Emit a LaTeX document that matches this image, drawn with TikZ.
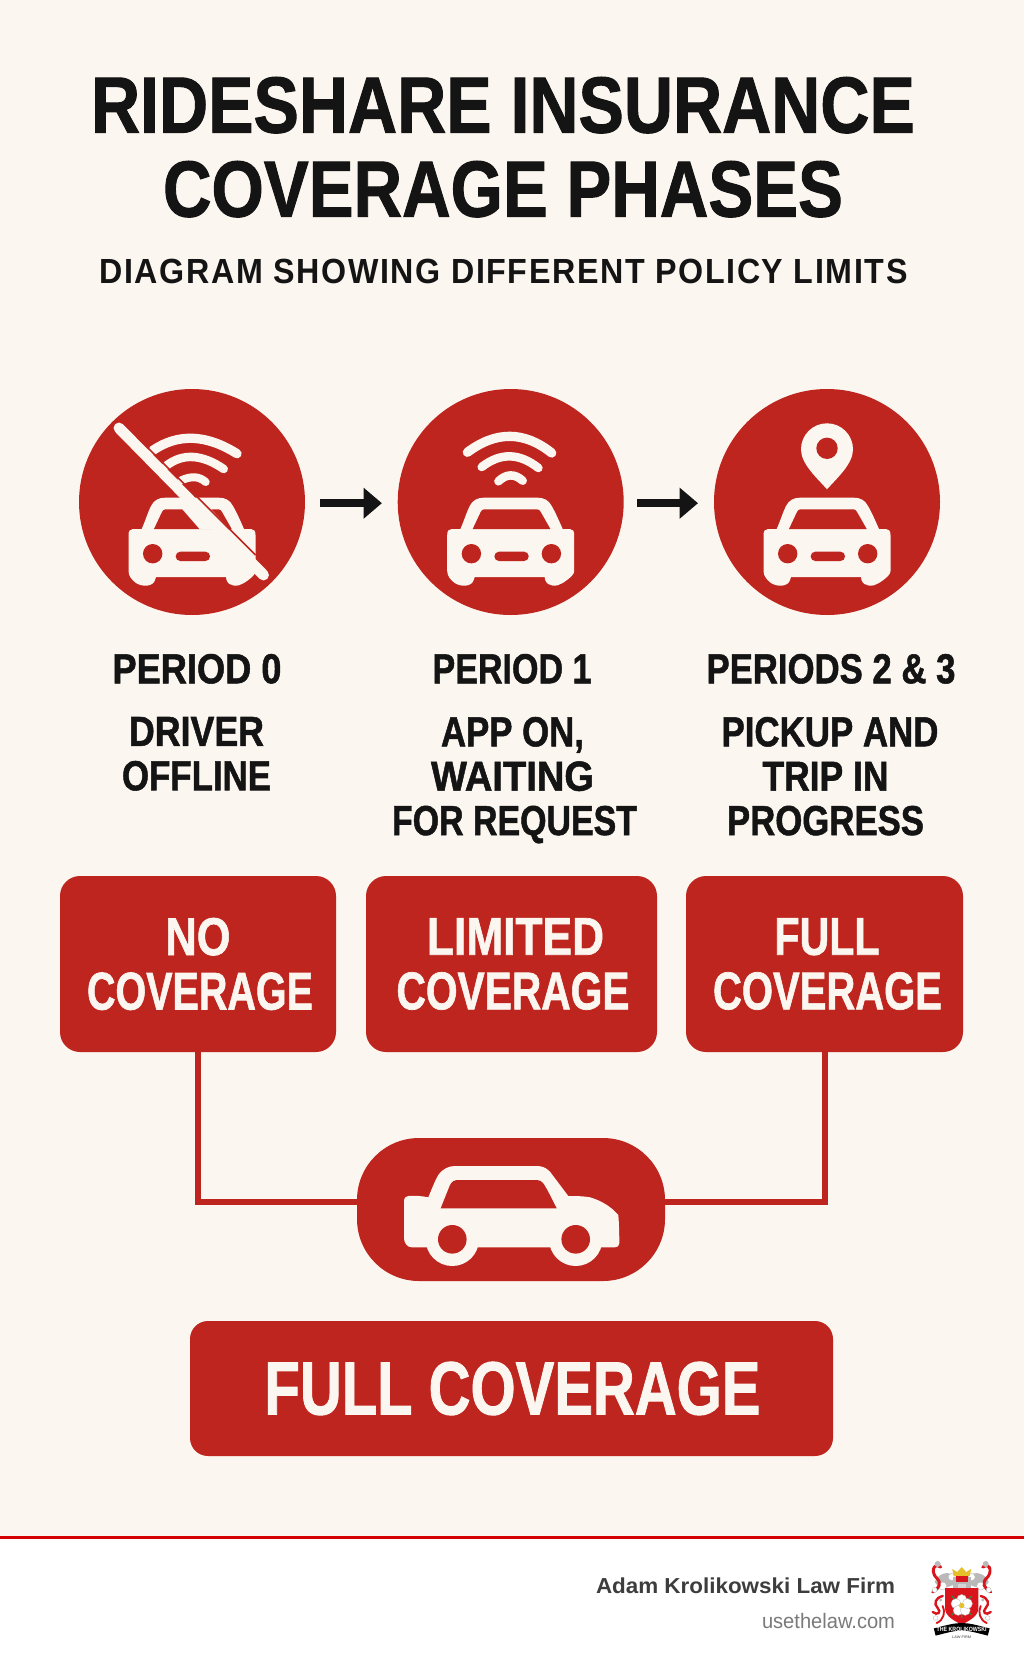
\documentclass[tikz,border=0pt]{standalone}
\usepackage{graphicx}
\usepackage{fontspec}
\usetikzlibrary{arrows.meta}
\setmainfont{Liberation Sans}
\newfontfamily\blk[FakeBold=1.3]{Liberation Sans Bold}
\newfontfamily\bld{Liberation Sans Bold}
\newfontfamily\reg{Liberation Sans}
\newfontfamily\sbt[LetterSpace=5]{Liberation Sans Bold}
\definecolor{rd}{HTML}{BF251F}
\definecolor{cream}{HTML}{FBF6EF}
\definecolor{ink}{HTML}{141414}
\definecolor{ftline}{HTML}{D50000}
\definecolor{ftdark}{HTML}{3D3D3D}
\definecolor{ftgray}{HTML}{7A7A7A}
\definecolor{lgred}{HTML}{D9141C}
\definecolor{lggray}{HTML}{B9B9B9}
\definecolor{lgyel}{HTML}{E6C02A}
\definecolor{lggreen}{HTML}{2E8B3C}
\newdimen\pxu \pxu=0.75pt
\newdimen\fsu \fsu=1.0475pt
% width in px, cap height in px, text
\newcommand{\TT}[3]{\resizebox{#1\pxu}{\height}{\fontsize{\the\dimexpr#2\fsu\relax}{\the\dimexpr#2\fsu\relax}\selectfont #3}}
\newcommand{\lsk}[1]{\fontsize{10pt}{#1}\selectfont}
\tikzset{
  x=0.75pt,y=-0.75pt,
  ttl/.style={inner sep=0pt,outer sep=0pt,anchor=north,align=center,text=ink},
  tile/.style={inner sep=0pt,outer sep=0pt,fill=rd,rounded corners=15pt,text=cream,align=center,minimum height=132pt},
  disc/.style={circle,fill=rd,inner sep=0pt,outer sep=0pt,minimum size=169.5pt},
  link/.style={draw=rd,line width=4.5pt},
  arr/.style={draw=ink,line width=6pt,-{Triangle[length=13.8pt,width=22.5pt]}},
  ic/.style={fill=cream,draw=none},
  ich/.style={fill=rd,draw=none},
  wave/.style={draw=cream,line cap=round}
}
\newcommand{\frontcar}{%
  \fill[ic] (-50.3,27) .. controls (-46,17) and (-44,10) .. (-41,4) .. controls (-38,-2) and (-33,-4.3) .. (-27,-4.3) -- (27,-4.3) .. controls (33,-4.3) and (38,-2) .. (41,4) .. controls (45,11) and (48,18) .. (52,27) -- (59,27) .. controls (62,27) and (63.5,29) .. (63.5,33) -- (63.5,69) .. controls (63.5,72) and (61,75) .. (52,81) .. controls (46,85) and (37,85) .. (34.5,78) -- (34,75) -- (-36,75) -- (-37,78) .. controls (-39,85) and (-50,85) .. (-56,81) .. controls (-60,78) and (-63.5,74) .. (-63.5,69) -- (-63.5,33) .. controls (-63.5,29) and (-62,27) .. (-59,27) -- cycle;
  \fill[ich] (-38,27) -- (-30,10) .. controls (-29,8) and (-28,7.3) .. (-26,7.3) -- (26,7.3) .. controls (28,7.3) and (29,8) .. (30,10) -- (39.7,27) -- cycle;
  \fill[ich] (-39.3,51.7) circle[radius=9.7];
  \fill[ich] (40.7,51.7) circle[radius=9.7];
  \fill[ich,rounded corners=3.4pt] (-16.3,49.7) rectangle (18,59);
}
\begin{document}
\begin{tikzpicture}
\useasboundingbox (0,0) rectangle (1024,1666);
\fill[cream] (0,0) rectangle (1024,1536);
\fill[white] (0,1539) rectangle (1024,1666);
\fill[ftline] (0,1536) rectangle (1024,1539);

% Title
\node[ttl,font=\blk\lsk{63pt}] (title) at (503,77) {\TT{824}{57}{RIDESHARE INSURANCE}\\\TT{680}{57}{COVERAGE PHASES}};
\node[ttl,font=\sbt\lsk{20pt}] (subtitle) at (503.5,259) {\TT{808}{25}{DIAGRAM SHOWING DIFFERENT POLICY LIMITS}};

% Discs
\node[disc] (c1) at (192,502) {};
\node[disc] (c2) at (510.7,502) {};
\node[disc] (c3) at (827,502) {};
\draw[arr,shorten <=11.25pt,shorten >=11.85pt] ([yshift=-0.9pt]c1.east) -- ([yshift=-0.9pt]c2.west);
\draw[arr,shorten <=10pt,shorten >=12pt] ([yshift=-0.9pt]c2.east) -- ([yshift=-0.9pt]c3.west);

% Disc 1: crossed out
\begin{scope}[shift={(192,502)}]
  \frontcar
  \fill[ic] (40.7,51.7) circle[radius=11];
  \fill[ic] (-12.5,4) -- (8,27.5) -- (38,27.5) -- (16,4) -- cycle;
  \draw[wave,line width=7pt] (-39,-51.7) .. controls (-13.7,-68.8) and (14.3,-67.7) .. (45,-48.3);
  \draw[wave,line width=6.4pt] (-25.7,-36.3) .. controls (-9.2,-49) and (9.9,-47.9) .. (31.7,-33);
  \draw[wave,line width=6pt] (-10.7,-21.7) .. controls (-0.2,-26.3) and (7.1,-25.7) .. (13.7,-20);
  \draw[rd,line width=1.2pt] (-48,-58) -- (63.5,53);
  \draw[cream,line width=8.2pt,line cap=round] (-73,-74) -- (71.5,73);
\end{scope}

% Disc 2: waves
\begin{scope}[shift={(510.7,502)}]
  \frontcar
  \draw[wave,line width=7pt] (-43.3,-49.7) .. controls (-14.6,-71.2) and (13.5,-71) .. (41,-49);
  \draw[wave,line width=6.4pt] (-29,-35) .. controls (-10.1,-49.7) and (8.8,-49) .. (27.7,-34);
  \draw[wave,line width=6.4pt] (-12.3,-20.7) .. controls (-4.1,-28.5) and (4,-28.4) .. (12,-21.3);
\end{scope}

% Disc 3: pin
\begin{scope}[shift={(827,502)}]
  \frontcar
  \fill[ic] (0,-12.7) .. controls (-10,-24) and (-26,-38) .. (-26,-52.7) .. controls (-26,-67) and (-14.4,-78.7) .. (0,-78.7) .. controls (14.4,-78.7) and (26,-67) .. (26,-52.7) .. controls (26,-38) and (10,-24) .. (0,-12.7) -- cycle;
  \fill[ich] (0,-53.7) circle[radius=10.7];
\end{scope}

% Labels
\node[ttl,font=\blk\lsk{33pt}] (p0) at (197,654) {\TT{169}{30}{PERIOD 0}};
\node[ttl,font=\blk\lsk{33pt}] (p1) at (512,654) {\TT{159}{30}{PERIOD 1}};
\node[ttl,font=\blk\lsk{33pt}] (p2) at (831,654) {\TT{249}{30}{PERIODS 2 \& 3}};
\node[ttl,font=\blk\lsk{33.3pt}] (d0) at (196.5,717) {\TT{135}{30}{DRIVER}\\\TT{149}{30}{OFFLINE}};
\node[ttl,font=\blk\lsk{33.3pt}] (d1) at (512.5,717) {\TT{143}{30}{APP ON,}\\\TT{163}{30}{WAITING}\\\hspace*{4\pxu}\TT{245}{30}{FOR REQUEST}};
\node[ttl,font=\blk\lsk{33.3pt}] (d2) at (825.5,717) {\hspace*{9\pxu}\TT{217}{30}{PICKUP AND}\\\TT{126}{30}{TRIP IN}\\\TT{197}{30}{PROGRESS}};

% Tiles
\node[tile,font=\blk\lsk{40.9pt},minimum width=207pt] (b1) at (198,964) {\TT{65}{38}{NO}\\\hspace*{4\pxu}\TT{226}{38}{COVERAGE}};
\node[tile,font=\blk\lsk{40.9pt},minimum width=218.25pt] (b2) at (511.5,964) {\hspace*{8\pxu}\TT{177}{38}{LIMITED}\\\hspace*{3\pxu}\TT{233}{38}{COVERAGE}};
\node[tile,font=\blk\lsk{40.9pt},minimum width=207.75pt] (b3) at (824.5,964) {\hspace*{5\pxu}\TT{105}{38}{FULL}\\\hspace*{6\pxu}\TT{229}{38}{COVERAGE}};

% Connectors and capsule
\node[fill=rd,inner sep=0pt,outer sep=0pt,rounded corners=46.5pt,minimum width=231pt,minimum height=107.25pt] (pill) at (511,1209.5) {};
\draw[link] (b1.south) |- ([yshift=5.6pt]pill.west);
\draw[link] (b3.south) |- ([yshift=5.6pt]pill.east);
% Side car
\begin{scope}[shift={(511,1209.5)}]
  \fill[ic] (-107,-7.8) .. controls (-107,-11.5) and (-105.5,-13.5) .. (-102.7,-13.5) .. controls (-96,-14) and (-89,-13.5) .. (-82.7,-12.2) .. controls (-79,-21) and (-76,-29) .. (-72.7,-34.5) .. controls (-68,-41) and (-62,-43.5) .. (-56,-43.5) -- (25.7,-43.5) .. controls (31,-43.5) and (35,-42) .. (39,-37.8) -- (57.3,-13.5) .. controls (64,-13.5) and (72,-13.5) .. (79,-12.2) .. controls (90,-9) and (100,-3) .. (107.3,5.5) .. controls (108,14) and (108.3,24) .. (108.3,33.8) .. controls (108.3,36.5) and (106.5,37.8) .. (104,37.8) -- (-99.3,37.8) .. controls (-104,37.8) and (-107,33) .. (-107,28.8) -- cycle;
  \fill[ic] (-58.7,29.8) circle[radius=26.7];
  \fill[ic] (64.7,29.8) circle[radius=26.7];
  \fill[ich] (-58.7,29.8) circle[radius=14.3];
  \fill[ich] (64.7,29.8) circle[radius=14.3];
  \fill[ich] (-70.3,-1.2) -- (-61,-24.5) .. controls (-59,-28) and (-57,-29.5) .. (-54.3,-29.5) -- (25.7,-29.5) .. controls (28.5,-29.5) and (30.5,-28.5) .. (32.3,-26.2) .. controls (37,-19) and (41,-10) .. (45.7,-1.2) -- cycle;
\end{scope}

% Big bar
\node[tile,font=\blk,rounded corners=13.5pt,minimum width=482.25pt,minimum height=101.25pt] (bar) at (511.5,1388.5) {\hspace*{2\pxu}\TT{496}{54}{FULL COVERAGE}};

% Footer text
\node[inner sep=0pt,outer sep=0pt,anchor=base east,text=ftdark,font=\bld] (firm) at (895,1593.5) {\TT{299}{15.5}{Adam Krolikowski Law Firm}};
\node[inner sep=0pt,outer sep=0pt,anchor=base east,text=ftgray,font=\reg] (site) at (895,1628) {\TT{133}{15}{usethelaw.com}};

% Crest
\begin{scope}[shift={(961.7,0)}]
  \foreach \s in {-1,1}{
    \begin{scope}[xscale=\s]
      \fill[lggray] (7,1576) .. controls (14,1570) and (24,1574) .. (27,1582) .. controls (22,1590) and (14,1588) .. (7,1584) -- cycle;
      \fill[white,draw=lggray,line width=0.3pt] (10,1577) circle[radius=3.5];
      \fill[white,draw=lggray,line width=0.3pt] (19,1586) circle[radius=4];
      \draw[lgred,line width=2.2pt,line cap=round] (21,1567) .. controls (30,1562) and (30,1574) .. (25,1578) .. controls (20,1583) and (22,1588) .. (29,1592);
      \fill[lggray] (24,1564) circle[radius=3];
      \fill[white,draw=lggray,line width=0.3pt] (27,1590) circle[radius=2.5];
      \draw[lgred,line width=1.8pt,line cap=round] (19,1596) .. controls (27,1598) and (28,1604) .. (24,1608) .. controls (20,1612) and (24,1616) .. (29,1612);
      \draw[lgred,line width=1.4pt,line cap=round] (19,1606) .. controls (16,1612) and (18,1620) .. (25,1623);
      \fill[lggray] (21,1600) circle[radius=1.6];
      \fill[white,draw=lggray,line width=0.3pt] (26,1618) circle[radius=2.4];
    \end{scope}
  }
  \fill[lgyel] (-8,1576) -- (-9.5,1569) -- (-4.5,1572) -- (0,1567) -- (4.5,1572) -- (9.5,1569) -- (8,1576) -- cycle;
  \fill[lggray] (-9,1577) rectangle (9,1590);
  \fill[lgred] (-6,1576) rectangle (6,1582);
  \fill[lggray!60!white] (-4,1584) rectangle (4,1590);
  \fill[lgred] (-16.7,1588) -- (16.7,1588) -- (16.7,1608) .. controls (16.7,1617) and (6,1621) .. (0,1625) .. controls (-6,1621) and (-16.7,1617) .. (-16.7,1608) -- cycle;
  \draw[lggreen,line width=0.9pt] (-10,1596) -- (10,1615) (10,1596) -- (-10,1615) (0,1594) -- (0,1618);
  \foreach \a in {90,162,234,306,18}{
    \fill[white,draw=lggray,line width=0.25pt] ({6*cos(\a)},{1605.5-6*sin(\a)}) circle[radius=5];
  }
  \fill[lgyel] (0,1605.5) circle[radius=2.7];
  \draw[black,line width=5.6pt] (-27,1632) .. controls (0,1625) .. (27,1632);
  \node[inner sep=0pt,outer sep=0pt,text=white,font=\bld] (crestname) at (0,1629.5) {\TT{50}{4.4}{THE KROLIKOWSKI}};
  \node[inner sep=0pt,outer sep=0pt,text=ftdark,font=\reg] (crestfirm) at (0,1637.5) {\TT{19}{2.6}{LAW FIRM}};
\end{scope}
\end{tikzpicture}
\end{document}
